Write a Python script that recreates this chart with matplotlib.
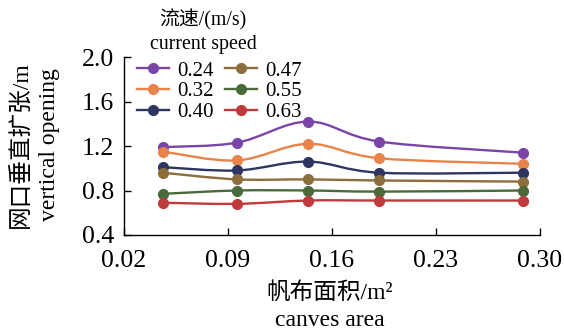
import numpy as np
import matplotlib

matplotlib.use("Agg")
import matplotlib.pyplot as plt
from matplotlib.path import Path
from matplotlib.patches import PathPatch
from matplotlib.lines import Line2D

# ── Data ────────────────────────────────────────────────────────
canvas_area = [0.046, 0.096, 0.144, 0.192, 0.289]
speed_labels = ["0.24", "0.32", "0.40", "0.47", "0.55", "0.63"]
opening_024 = [1.19, 1.23, 1.42, 1.24, 1.14]
opening_032 = [1.15, 1.07, 1.22, 1.09, 1.04]
opening_040 = [1.01, 0.98, 1.06, 0.96, 0.96]
opening_047 = [0.96, 0.90, 0.90, 0.89, 0.88]
opening_055 = [0.77, 0.80, 0.80, 0.79, 0.80]
opening_063 = [0.69, 0.68, 0.71, 0.71, 0.71]
series = [opening_024, opening_032, opening_040, opening_047, opening_055, opening_063]
colors = ["#7A44A8", "#E8834A", "#2D3561", "#8C6D3C", "#4B6A3A", "#C0393B"]

xticks = [0.02, 0.09, 0.16, 0.23, 0.30]
yticks = [0.4, 0.8, 1.2, 1.6, 2.0]

SERIF = ["Liberation Serif", "Noto Sans CJK SC"]
plt.rcParams["font.family"] = SERIF


def smooth_path(xs, ys):
    # Excel-style smoothed line: cubic Bezier segments through the points
    pts = np.column_stack([xs, ys])
    n = len(pts)
    verts = [pts[0]]
    codes = [Path.MOVETO]
    for i in range(n - 1):
        p0 = pts[max(i - 1, 0)]
        p1 = pts[i]
        p2 = pts[i + 1]
        p3 = pts[min(i + 2, n - 1)]
        c1 = p1 + (p2 - p0) / 6.0
        c2 = p2 - (p3 - p1) / 6.0
        verts += [c1, c2, p2]
        codes += [Path.CURVE4] * 3
    return Path(verts, codes)


fig = plt.figure(figsize=(5.64, 3.33), dpi=100)
ax = fig.add_axes([0.2199, 0.2943, 0.737, 0.5345])

handles = []
for ys, col, lab in zip(series, colors, speed_labels):
    ax.add_patch(PathPatch(smooth_path(canvas_area, ys), fill=False,
                           edgecolor=col, linewidth=1.7, zorder=2))
    ax.plot(canvas_area, ys, "o", color=col, markersize=7, zorder=3)
    handles.append(Line2D([], [], color=col, linewidth=1.7, marker="o",
                          markersize=7, label=lab))

ax.set_xlim(0.02, 0.30)
ax.set_ylim(0.4, 2.0)
ax.set_xticks(xticks)
ax.set_xticklabels([f"{v:.2f}" for v in xticks])
ax.set_yticks(yticks)
ax.set_yticklabels([f"{v:.1f}" for v in yticks])
ax.tick_params(direction="in", length=5, width=1, labelsize=18.5)
ax.tick_params(axis="x", pad=11)
ax.tick_params(axis="y", pad=7)
for s in ["top", "right"]:
    ax.spines[s].set_visible(False)
for s in ["left", "bottom"]:
    ax.spines[s].set_linewidth(1)

leg = ax.legend(handles=handles, ncol=2, loc="upper left",
                bbox_to_anchor=(137 / 564, 1 - 61 / 333),
                bbox_transform=fig.transFigure, frameon=False,
                fontsize=15, handlelength=1.55, handletextpad=0.4,
                columnspacing=0.5, labelspacing=0.05, borderpad=0,
                borderaxespad=0)

# legend title
fig.text(203 / 564, 1 - 20 / 333, "流速/(m/s)", ha="center", va="center",
         fontsize=14.3)
fig.text(203 / 564, 1 - 44 / 333, "current speed", ha="center", va="center",
         fontsize=14.3)

# axis labels, Chinese + English
fig.text(20 / 564, 1 - 145 / 333, "网口垂直扩张/m", rotation=90,
         ha="center", va="center", fontsize=17)
fig.text(50 / 564, 1 - 145 / 333, "vertical opening", rotation=90,
         ha="center", va="center", fontsize=17)
fig.text(330 / 564, 1 - 293 / 333, "帆布面积/m²", ha="center", va="center",
         fontsize=17)
fig.text(330 / 564, 1 - 320 / 333, "canves area", ha="center", va="center",
         fontsize=17)

fig.savefig("out.png", dpi=100)
